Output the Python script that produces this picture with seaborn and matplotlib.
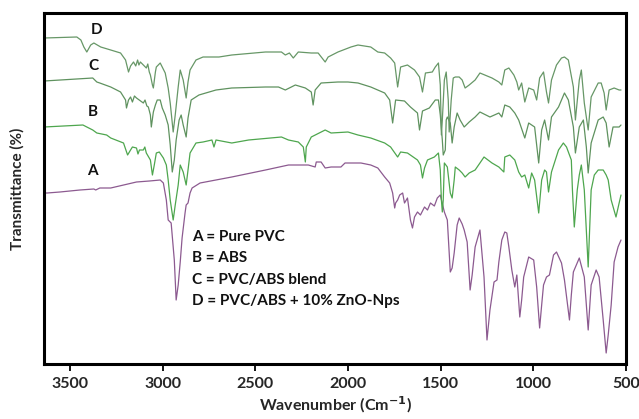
import numpy as np
import pandas as pd
import matplotlib
matplotlib.use("Agg")
import matplotlib.pyplot as plt
import seaborn as sns

# ---------------- data ----------------
# A = Pure PVC
a_wn = [3639, 3623, 3554, 3446, 3371, 3361, 3339, 3280, 3141, 3071, 3013, 2996, 2980, 2970,
        2954, 2937, 2927, 2916, 2905, 2895, 2879, 2873, 2863, 2852, 2841, 2798, 2627, 2445,
        2321, 2214, 2177, 2171, 2145, 2123, 2091, 2038, 2016, 1984, 1930, 1877, 1839, 1802,
        1775, 1759, 1748, 1743, 1732, 1721, 1705, 1695, 1679, 1663, 1652, 1641, 1625, 1609,
        1587, 1571, 1555, 1534, 1518, 1502, 1480, 1464, 1448, 1438, 1427, 1411, 1400, 1384,
        1373, 1357, 1341, 1330, 1314, 1288, 1266, 1250, 1234, 1212, 1196, 1186, 1170, 1154,
        1143, 1132, 1116, 1100, 1089, 1073, 1063, 1052, 1025, 998, 982, 966, 955, 945, 929,
        913, 891, 875, 848, 832, 805, 795, 784, 752, 725, 704, 688, 661, 645, 623, 607, 596,
        580, 564, 543, 527]
a_t = [171, 171, 172, 174, 175, 174, 176, 176, 182, 183, 184, 181, 164, 144,
       141, 104, 64, 79, 102, 126, 151, 159, 161, 171, 176, 181, 187, 194,
       199, 199, 197, 202, 202, 196, 197, 197, 201, 201, 201, 199, 196, 187,
       181, 171, 156, 161, 164, 169, 171, 161, 166, 144, 136, 147, 152, 149,
       157, 154, 161, 158, 166, 169, 152, 144, 92, 96, 111, 139, 146, 140,
       134, 122, 74, 89, 117, 134, 87, 24, 54, 82, 84, 102, 124, 132,
       131, 117, 94, 77, 89, 47, 64, 87, 107, 104, 77, 36, 59, 79, 87,
       89, 109, 112, 101, 84, 44, 69, 92, 106, 87, 34, 79, 94, 87, 44, 11, 29,
       59, 102, 117, 124]

# B = ABS
b_wn = [3639, 3430, 3409, 3377, 3355, 3302, 3280, 3211, 3189, 3173, 3163, 3141, 3133, 3125,
        3104, 3096, 3088, 3066, 3055, 3045, 3034, 3018, 2996, 2980, 2970, 2959, 2943, 2932,
        2916, 2905, 2889, 2873, 2863, 2852, 2820, 2782, 2734, 2723, 2712, 2627, 2536, 2359,
        2321, 2268, 2241, 2230, 2225, 2198, 2123, 2091, 2000, 1946, 1877, 1802, 1770, 1732,
        1716, 1679, 1625, 1609, 1598, 1587, 1571, 1534, 1512, 1502, 1496, 1491, 1486, 1480,
        1464, 1448, 1438, 1427, 1421, 1400, 1384, 1368, 1346, 1314, 1288, 1266, 1223, 1186,
        1159, 1154, 1127, 1100, 1079, 1063, 1046, 1025, 1009, 993, 971, 955, 939, 929, 918,
        902, 864, 838, 821, 795, 789, 779, 763, 752, 741, 725, 704, 688, 671, 650, 623, 607,
        596, 580, 554, 537, 527]
b_t = [237, 239, 237, 234, 231, 229, 226, 221, 209, 214, 217, 216, 210, 214,
       214, 217, 211, 204, 189, 199, 211, 212, 206, 199, 184, 164, 144, 159,
       179, 199, 192, 179, 194, 211, 221, 222, 224, 217, 224, 221, 224, 227,
       224, 222, 217, 202, 217, 227, 234, 231, 232, 229, 226, 221, 217, 207,
       212, 211, 204, 199, 186, 196, 204, 207, 211, 194, 164, 152, 164, 201,
       197, 171, 166, 184, 197, 194, 191, 187, 191, 194, 201, 207, 201, 197,
       192, 207, 209, 204, 192, 187, 189, 176, 191, 184, 151, 184, 194, 192, 172,
       192, 214, 221, 217, 204, 174, 137, 174, 189, 199, 174, 97, 174, 189, 194, 194, 189,
       184, 164, 147, 161, 169]

# C = PVC/ABS blend
c_wn = [3639, 3377, 3355, 3339, 3280, 3248, 3227, 3200, 3195, 3184, 3173, 3163, 3152, 3141,
        3104, 3095, 3085, 3077, 3066, 3061, 3050, 3039, 3029, 3013, 3002, 2986, 2970, 2959,
        2948, 2937, 2927, 2911, 2900, 2889, 2873, 2863, 2846, 2804, 2712, 2627, 2445, 2375,
        2338, 2284, 2230, 2198, 2188, 2177, 2145, 2054, 2000, 1946, 1877, 1802, 1775, 1759,
        1743, 1695, 1663, 1625, 1614, 1598, 1561, 1529, 1512, 1502, 1491, 1486, 1475, 1470,
        1464, 1448, 1438, 1427, 1411, 1395, 1373, 1346, 1314, 1288, 1234, 1186, 1170, 1154,
        1127, 1100, 1079, 1046, 1025, 993, 971, 955, 939, 918, 902, 864, 848, 832, 811, 784,
        773, 752, 730, 714, 704, 688, 650, 623, 607, 591, 570, 537, 527]
c_t = [283, 286, 282, 281, 277, 274, 272, 264, 256, 264, 267, 262, 268, 266,
       261, 264, 258, 257, 249, 237, 252, 259, 264, 264, 256, 249, 239, 219,
       192, 204, 224, 244, 249, 239, 227, 246, 264, 269, 274, 276, 277, 277,
       274, 279, 276, 272, 259, 274, 281, 282, 282, 281, 277, 271, 264, 241,
       264, 263, 257, 251, 234, 253, 256, 264, 264, 249, 224, 209, 214, 244,
       247, 241, 221, 237, 251, 244, 237, 242, 247, 252, 247, 251, 247, 259,
       257, 251, 244, 226, 241, 237, 201, 234, 244, 224, 247, 257, 264, 271, 264, 237,
       211, 237, 244, 217, 191, 221, 244, 247, 241, 217, 237, 237, 239]

# D = PVC/ABS + 10% ZnO-Nps
d_wn = [3639, 3463, 3441, 3425, 3409, 3388, 3371, 3334, 3280, 3227, 3200, 3184, 3173, 3157,
        3145, 3135, 3128, 3120, 3088, 3080, 3072, 3066, 3055, 3050, 3039, 3034, 3013, 2986,
        2970, 2959, 2943, 2932, 2916, 2905, 2889, 2873, 2863, 2852, 2820, 2782, 2696, 2627,
        2445, 2359, 2338, 2316, 2295, 2268, 2198, 2161, 2123, 2107, 2054, 1984, 1946, 1877,
        1839, 1802, 1770, 1748, 1732, 1716, 1679, 1641, 1614, 1598, 1582, 1545, 1529, 1512,
        1502, 1496, 1491, 1480, 1470, 1459, 1454, 1443, 1432, 1421, 1400, 1384, 1368, 1346,
        1314, 1288, 1223, 1186, 1170, 1154, 1132, 1105, 1089, 1079, 1063, 1046, 1025, 998,
        982, 966, 945, 929, 918, 902, 875, 848, 832, 811, 784, 773, 752, 741, 725, 704, 688,
        650, 634, 618, 607, 591, 564, 537, 527]
d_t = [326, 327, 324, 317, 312, 319, 321, 317, 314, 311, 304, 292, 298, 302,
       298, 304, 299, 302, 296, 300, 292, 289, 279, 276, 292, 297, 301, 291,
       276, 261, 232, 249, 277, 294, 284, 266, 282, 294, 304, 307, 307, 309,
       312, 312, 309, 311, 306, 312, 311, 311, 302, 307, 312, 317, 319, 317,
       312, 311, 306, 301, 277, 297, 299, 294, 287, 272, 291, 292, 297, 301,
       279, 229, 244, 284, 292, 264, 232, 264, 286, 287, 287, 284, 276, 279,
       284, 291, 286, 282, 279, 294, 296, 289, 282, 274, 281, 262, 276, 274,
       264, 286, 292, 272, 261, 284, 299, 306, 307, 304, 277, 244, 284, 294, 261, 234, 267,
       281, 281, 271, 254, 274, 276, 274, 274]

curve_labels = ["A", "B", "C", "D"]
legend_lines = ["A = Pure PVC", "B = ABS", "C = PVC/ABS blend", "D = PVC/ABS + 10% ZnO-Nps"]
x_ticks = [3500, 3000, 2500, 2000, 1500, 1000, 500]

# ---------------- plot ----------------
sns.set_style("white")
plt.rcParams["font.family"] = ["Lato", "DejaVu Sans"]
plt.rcParams["font.weight"] = "bold"

fig = plt.figure(figsize=(6.39, 4.19), dpi=100)
ax = fig.add_axes([44 / 639, 1 - 364 / 419, (626 - 44) / 639, (364 - 13) / 419])

series = [
    (a_wn, a_t, "#8c5a90"),
    (b_wn, b_t, "#4ea64e"),
    (c_wn, c_t, "#5f925f"),
    (d_wn, d_t, "#679767"),
]
for wn, t, col in series:
    sns.lineplot(x=wn, y=t, ax=ax, color=col, linewidth=0.9, sort=False, estimator=None)

ax.set_xlim(3640, 520)
ax.set_ylim(0, 351)
ax.set_xticks(x_ticks)
ax.set_xticklabels([str(v) for v in x_ticks], fontsize=11.5, fontweight="bold")
ax.set_yticks([])
ax.tick_params(axis="x", direction="out", length=5, width=1.3, color="black", pad=4,
               bottom=True)
for sp in ax.spines.values():
    sp.set_visible(True)
    sp.set_color("black")
    sp.set_linewidth(2.2)

ax.set_xlabel("Wavenumber (Cm$^{\\mathbf{-1}}$)", fontsize=11.5, fontweight="bold", labelpad=3)
ax.set_ylabel("Transmittance (%)", fontsize=11, fontweight="bold", labelpad=14)

# curve letters
letter_pos = {"D": (3355, 334), "C": (3371, 298), "B": (3377, 252), "A": (3377, 193)}
for lab in curve_labels:
    x, y = letter_pos[lab]
    ax.text(x, y, lab, fontsize=11, fontweight="bold", ha="center", va="center", color="#111111")

# key text
key_y = [127, 106, 84, 63]
for txt, y in zip(legend_lines, key_y):
    ax.text(2841, y, txt, fontsize=11, fontweight="bold", ha="left", va="center", color="#111111")

fig.savefig("out.png", dpi=100)
